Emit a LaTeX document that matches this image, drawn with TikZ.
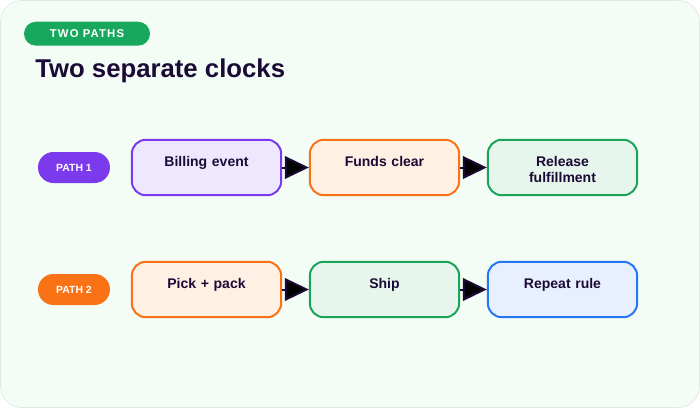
\documentclass[tikz,border=0pt]{standalone}
\usepackage{fontspec}
\setmainfont{Liberation Sans}
\usetikzlibrary{positioning,arrows.meta}

\definecolor{ink}{HTML}{1B0A36}
\definecolor{canvas}{HTML}{F3FDF6}
\definecolor{canvasline}{HTML}{DDE9E2}
\definecolor{badge}{HTML}{17A85D}
\definecolor{violet}{HTML}{7C3AED}
\definecolor{violetfill}{HTML}{EEE8FF}
\definecolor{orange}{HTML}{F97316}
\definecolor{orangefill}{HTML}{FFF0E4}
\definecolor{leaf}{HTML}{1BA35A}
\definecolor{leaffill}{HTML}{E6F6EC}
\definecolor{sky}{HTML}{2478F5}
\definecolor{skyfill}{HTML}{E8F0FF}

\begin{document}
\begin{tikzpicture}[x=0.75pt,y=0.75pt,node distance=91.5pt and 133.5pt,on grid,
    stage/.style={draw,line width=1.5pt,rounded corners=10.5pt,
      minimum width=112pt,text width=105pt,align=center,
      inner xsep=0pt,inner ysep=0pt,text height=19.7pt,text depth=21.9pt,
      font=\bfseries\fontsize{10.5}{12}\selectfont,text=ink},
    pathtag/.style={rounded corners=11.6pt,minimum width=54pt,minimum height=23.25pt,
      inner sep=0pt,text=white,font=\bfseries\fontsize{7.8}{9}\selectfont},
    flow/.style={draw=ink,line width=1.5pt,-{Triangle[length=18pt,width=17pt]}}]
  \useasboundingbox (0,0) rectangle (700,408);
  \draw[fill=canvas,draw=canvasline,line width=0.5pt,rounded corners=16pt]
    (0.5,0.5) rectangle (699.5,407.5);
  % heading
  \node[fill=badge,rounded corners=9pt,minimum width=94.5pt,minimum height=18pt,inner sep=0pt,
    text=white,font=\bfseries\fontsize{8.5}{10}\selectfont\addfontfeatures{LetterSpace=10}]
    (badge) at (87,374.3) {TWO PATHS};
  \node[anchor=base west,inner sep=0pt,text=ink,font=\bfseries\fontsize{19.3}{23}\selectfont]
    (title) at (35,330.3) {Two separate clocks};
  % path 1
  \node[stage,draw=violet,fill=violetfill] (bill)               at (206.5,240.5) {Billing event};
  \node[stage,draw=orange,fill=orangefill] (funds)   [right=of bill]  {Funds clear};
  \node[stage,draw=leaf,fill=leaffill]     (release) [right=of funds] {Release\\fulfillment};
  \node[pathtag,fill=violet] (path1) [left=99.4pt of bill] {PATH 1};
  % path 2
  \node[stage,draw=orange,fill=orangefill] (pick)    [below=of bill]  {Pick + pack};
  \node[stage,draw=leaf,fill=leaffill]     (ship)    [right=of pick]  {Ship};
  \node[stage,draw=sky,fill=skyfill]       (repeat)  [right=of ship]  {Repeat rule};
  \node[pathtag,fill=orange] (path2) [left=99.4pt of pick] {PATH 2};
  \path[flow]
    (bill)  edge (funds)
    (funds) edge (release)
    (pick)  edge (ship)
    (ship)  edge (repeat);
\end{tikzpicture}
\end{document}
